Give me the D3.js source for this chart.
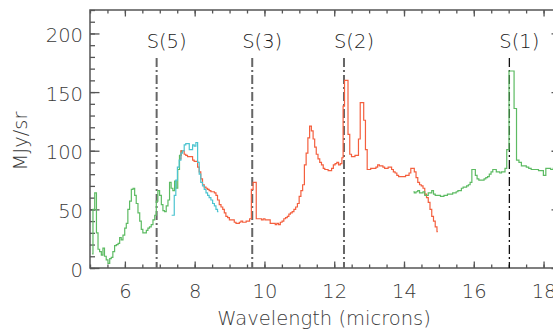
<!DOCTYPE html>
<html>
<head>
<meta charset="utf-8">
<script src="https://cdn.jsdelivr.net/npm/d3@7"></script>
<style>
  body { margin: 0; background: #fff; }
  svg { display: block; font-family: "DejaVu Sans", sans-serif; }
  text { font-weight: 300; }
</style>
</head>
<body>
<svg id="chart" width="553" height="329"></svg>
<script>
// spectra as [wavelength (microns), MJy/sr]
var sl2Green = [
  [5.06, 12], [5.11, 50], [5.16, 64], [5.21, 30], [5.25, 16], [5.30, 14], [5.35, 11], [5.39, 17],
  [5.44, 10], [5.49, 7], [5.54, 4], [5.59, 8], [5.63, 9], [5.68, 14], [5.73, 19], [5.78, 20],
  [5.83, 21], [5.87, 26], [5.92, 24], [5.97, 28], [6.02, 34], [6.06, 38], [6.11, 50], [6.16, 57],
  [6.21, 67], [6.26, 68], [6.30, 62], [6.35, 55], [6.40, 47], [6.45, 40], [6.49, 33], [6.54, 30],
  [6.59, 30], [6.64, 32], [6.68, 34], [6.73, 35], [6.78, 37], [6.83, 41], [6.88, 45], [6.92, 57],
  [6.97, 66], [7.02, 62], [7.07, 54], [7.11, 49], [7.16, 48], [7.21, 53], [7.26, 58], [7.30, 73],
  [7.35, 68], [7.40, 66], [7.45, 74], [7.49, 68], [7.54, 84], [7.59, 96], [7.64, 100]
];

var sl3Cyan = [
  [7.34, 45], [7.39, 45], [7.44, 62], [7.48, 75], [7.53, 86], [7.58, 92], [7.63, 98], [7.68, 100],
  [7.72, 105], [7.77, 106], [7.82, 106], [7.87, 101], [7.92, 101], [7.96, 105], [8.01, 104],
  [8.06, 107], [8.11, 90], [8.15, 80], [8.20, 73], [8.25, 70], [8.30, 67], [8.35, 64], [8.39, 62],
  [8.44, 60], [8.49, 58], [8.54, 55], [8.59, 53], [8.63, 50], [8.68, 48]
];

var sl1Red = [
  [7.58, 93], [7.63, 100], [7.68, 100], [7.72, 97], [7.77, 96], [7.82, 95], [7.87, 95], [7.92, 95],
  [7.96, 92], [8.01, 91], [8.06, 91], [8.11, 86], [8.15, 82], [8.20, 76], [8.25, 71], [8.30, 69],
  [8.35, 68], [8.39, 67], [8.44, 66], [8.49, 65], [8.54, 65], [8.59, 64], [8.63, 62], [8.68, 58],
  [8.73, 54], [8.78, 52], [8.83, 50], [8.87, 47], [8.92, 44], [8.97, 43], [9.02, 41], [9.06, 41],
  [9.11, 41], [9.16, 39], [9.21, 38], [9.26, 38], [9.30, 39], [9.35, 40], [9.40, 39], [9.45, 39],
  [9.50, 40], [9.55, 40], [9.60, 42], [9.65, 67], [9.70, 73], [9.74, 73], [9.79, 42], [9.84, 42],
  [9.89, 42], [9.94, 41], [9.99, 42], [10.04, 41], [10.09, 41], [10.14, 41], [10.19, 38], [10.24, 38],
  [10.29, 38], [10.33, 37], [10.38, 38], [10.43, 37], [10.48, 39], [10.53, 40], [10.58, 42], [10.63, 43],
  [10.68, 44], [10.72, 46], [10.77, 47], [10.82, 48], [10.87, 50], [10.92, 52], [10.97, 55], [11.02, 61],
  [11.07, 66], [11.12, 71], [11.17, 88], [11.22, 98], [11.27, 111], [11.32, 121], [11.37, 117], [11.42, 110],
  [11.46, 103], [11.51, 97], [11.56, 93], [11.61, 90], [11.66, 88], [11.71, 85], [11.75, 84], [11.80, 84],
  [11.85, 83], [11.90, 83], [11.95, 85], [12.00, 88], [12.05, 89], [12.10, 90], [12.15, 88], [12.20, 89],
  [12.24, 94], [12.27, 138], [12.32, 160], [12.37, 160], [12.42, 114], [12.47, 97], [12.52, 95], [12.57, 95],
  [12.62, 96], [12.67, 96], [12.72, 110], [12.77, 141], [12.82, 141], [12.87, 126], [12.92, 101], [12.97, 84],
  [13.02, 84], [13.07, 85], [13.12, 85], [13.17, 85], [13.22, 86], [13.27, 88], [13.32, 87], [13.37, 87],
  [13.42, 86], [13.47, 85], [13.52, 85], [13.57, 86], [13.62, 86], [13.67, 84], [13.72, 82], [13.77, 81],
  [13.82, 79], [13.87, 78], [13.92, 78], [13.97, 78], [14.02, 78], [14.07, 79], [14.12, 79], [14.17, 81],
  [14.22, 85], [14.27, 85], [14.32, 82], [14.37, 77], [14.42, 73], [14.47, 71], [14.52, 70], [14.57, 68],
  [14.62, 63], [14.67, 60], [14.72, 56], [14.77, 50], [14.82, 44], [14.87, 40], [14.92, 35], [14.97, 31]
];

var ll2Green = [
  [14.27, 65], [14.32, 64], [14.37, 65], [14.42, 66], [14.47, 64], [14.52, 64], [14.57, 65], [14.62, 62],
  [14.67, 62], [14.72, 64], [14.77, 64], [14.82, 66], [14.87, 63], [14.92, 62], [14.97, 62], [15.02, 62],
  [15.07, 61], [15.12, 61], [15.17, 62], [15.22, 62], [15.27, 63], [15.32, 63], [15.37, 63], [15.42, 64],
  [15.47, 64], [15.52, 65], [15.57, 66], [15.62, 66], [15.67, 68], [15.72, 69], [15.77, 69], [15.82, 70],
  [15.87, 71], [15.92, 73], [15.97, 84], [16.02, 84], [16.07, 79], [16.12, 76], [16.17, 75], [16.22, 75],
  [16.27, 75], [16.32, 76], [16.37, 77], [16.42, 78], [16.47, 80], [16.52, 82], [16.57, 84], [16.62, 84],
  [16.67, 82], [16.72, 82], [16.77, 81], [16.82, 82], [16.87, 82], [16.92, 85], [16.97, 101], [17.05, 168],
  [17.12, 168], [17.19, 136], [17.26, 92], [17.33, 90], [17.40, 87], [17.47, 87], [17.54, 86], [17.61, 85],
  [17.68, 84], [17.75, 84], [17.82, 84], [17.89, 83], [17.96, 83], [18.03, 79], [18.10, 85], [18.17, 85],
  [18.24, 84], [18.31, 85], [18.40, 85]
];

// H2 rotational lines
var lineNames = ["S(5)", "S(3)", "S(2)", "S(1)"];
var lineWaves = [6.91, 9.65, 12.28, 17.02];

var xMajor = [6, 8, 10, 12, 14, 16, 18];
var yMajor = [0, 50, 100, 150, 200];

var svg = d3.select('#chart');
// note: "top" is a reserved window global, so use pl/pt/pr/pb
var pl = 90, pt = 10, pr = 561, pb = 268;

var x = d3.scaleLinear().domain([5, 18.5]).range([pl, pr]);
var y = d3.scaleLinear().domain([0, 220]).range([pb, pt]);

var axisColor = '#555';

// minor ticks every 0.5 micron / 10 units
var xMinor = d3.range(5, 18.51, 0.5);
var yMinor = d3.range(0, 221, 10);

function styleAxis(g) {
  g.select('.domain').remove();
  g.selectAll('line').attr('stroke', axisColor).attr('stroke-width', 1.3);
}

svg.append('g').attr('transform', 'translate(0,' + pb + ')')
  .call(d3.axisBottom(x).tickValues(xMinor).tickSize(-3.5).tickFormat(''))
  .call(styleAxis);
svg.append('g').attr('transform', 'translate(0,' + pt + ')')
  .call(d3.axisTop(x).tickValues(xMinor).tickSize(-3.5).tickFormat(''))
  .call(styleAxis);
svg.append('g').attr('transform', 'translate(' + pl + ',0)')
  .call(d3.axisLeft(y).tickValues(yMinor).tickSize(-5).tickFormat(''))
  .call(styleAxis);
svg.append('g').attr('transform', 'translate(' + pr + ',0)')
  .call(d3.axisRight(y).tickValues(yMinor).tickSize(-5).tickFormat(''))
  .call(styleAxis);

// major ticks + labels
var xAx = svg.append('g').attr('transform', 'translate(0,' + pb + ')')
  .call(d3.axisBottom(x).tickValues(xMajor).tickSize(-6.5).tickPadding(16).tickFormat(d3.format('d')))
  .call(styleAxis);
svg.append('g').attr('transform', 'translate(0,' + pt + ')')
  .call(d3.axisTop(x).tickValues(xMajor).tickSize(-6.5).tickFormat(''))
  .call(styleAxis);
var yAx = svg.append('g').attr('transform', 'translate(' + pl + ',0)')
  .call(d3.axisLeft(y).tickValues(yMajor).tickSize(-9.5).tickPadding(7).tickFormat(d3.format('d')))
  .call(styleAxis);
svg.append('g').attr('transform', 'translate(' + pr + ',0)')
  .call(d3.axisRight(y).tickValues(yMajor).tickSize(-9.5).tickFormat(''))
  .call(styleAxis);

[xAx, yAx].forEach(function (g) {
  g.selectAll('text')
    .attr('fill', '#3a3a3a')
    .style('font-size', '19.5px')
    .style('font-family', '"DejaVu Sans", sans-serif');
});
yAx.selectAll('text').attr('dy', '0.42em');

// frame
svg.append('rect')
  .attr('x', pl).attr('y', pt)
  .attr('width', pr - pl).attr('height', pb - pt)
  .attr('fill', 'none').attr('stroke', axisColor).attr('stroke-width', 1.5);

// H2 line markers
lineWaves.forEach(function (w, i) {
  var last = i === lineWaves.length - 1;
  svg.append('line')
    .attr('x1', x(w)).attr('x2', x(w))
    .attr('y1', 58).attr('y2', pb)
    .attr('stroke', last ? '#111' : '#666')
    .attr('stroke-width', last ? 1.3 : 2)
    .attr('stroke-dasharray', '9,3,2,3');
  svg.append('text')
    .attr('x', x(w) - 10).attr('y', 48)
    .attr('fill', '#1a1a1a')
    .style('font-size', '19.5px')
    .text(lineNames[i]);
});

// spectra
svg.append('clipPath').attr('id', 'plotClip')
  .append('rect').attr('x', pl).attr('y', pt)
  .attr('width', pr - pl).attr('height', pb - pt);

var line = d3.line()
  .x(function (d) { return x(d[0]); })
  .y(function (d) { return y(d[1]); })
  .curve(d3.curveStep);

var series = [
  { data: sl2Green, color: '#5dbb63' },
  { data: sl1Red, color: '#f45f3e' },
  { data: sl3Cyan, color: '#4cc4d0' },
  { data: ll2Green, color: '#5dbb63' }
];

var plot = svg.append('g').attr('clip-path', 'url(#plotClip)');
series.forEach(function (s) {
  plot.append('path')
    .datum(s.data)
    .attr('d', line)
    .attr('fill', 'none')
    .attr('stroke', s.color)
    .attr('stroke-width', 1.2);
});

// axis titles
svg.append('text')
  .attr('x', 324).attr('y', 325)
  .attr('text-anchor', 'middle')
  .attr('fill', '#3a3a3a')
  .style('font-size', '19.5px')
  .text('Wavelength (microns)');

svg.append('text')
  .attr('transform', 'translate(27,141) rotate(-90)')
  .attr('text-anchor', 'middle')
  .attr('fill', '#3a3a3a')
  .style('font-size', '19.5px')
  .text('MJy/sr');
</script>
</body>
</html>
